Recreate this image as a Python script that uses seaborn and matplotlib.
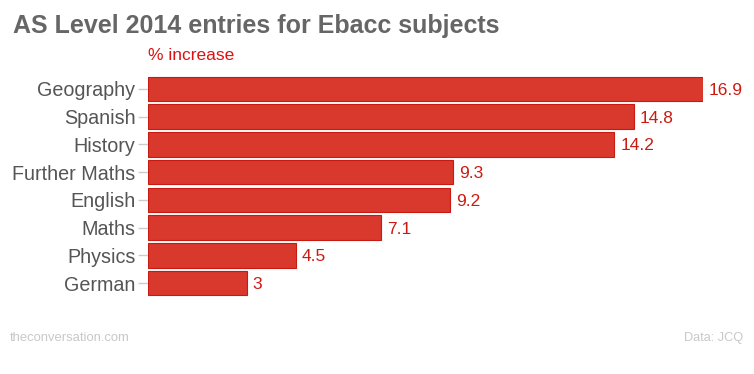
import matplotlib
matplotlib.use('Agg')
import matplotlib.pyplot as plt
import seaborn as sns
import pandas as pd

subjects = ['Geography', 'Spanish', 'History', 'Further Maths',
            'English', 'Maths', 'Physics', 'German']
increase = [16.9, 14.8, 14.2, 9.3, 9.2, 7.1, 4.5, 3]
value_labels = ['16.9', '14.8', '14.2', '9.3', '9.2', '7.1', '4.5', '3']

df = pd.DataFrame({'subject': subjects, 'increase': increase})

sns.set_style('white')
plt.rcParams['font.family'] = ['Liberation Sans', 'DejaVu Sans']

fig = plt.figure(figsize=(7.54, 3.74), dpi=100)
ax = fig.add_axes([148 / 754, 1 - 296.9 / 374, (703 - 148) / 754, (296.9 - 75.1) / 374])

sns.barplot(data=df, x='increase', y='subject', ax=ax, color='#d9382c',
            saturation=1, width=0.88, edgecolor='#c81a12', linewidth=0.8)

# value labels at the bar ends
for i, (v, lab) in enumerate(zip(increase, value_labels)):
    ax.text(v + 0.18, i, lab, ha='left', va='center_baseline',
            fontsize=12.5, color='#cc1a10')

ax.set_xlim(0, 16.9)
ax.set_ylim(7.5, -0.5)
ax.set_xlabel('')
ax.set_ylabel('')
ax.set_xticks([])
for s in ax.spines.values():
    s.set_visible(False)
ax.tick_params(axis='y', left=True, length=7, width=1, color='#cccccc',
               labelsize=14.2, labelcolor='#555555', pad=2)

fig.text(13 / 754, 1 - 26 / 374, 'AS Level 2014 entries for Ebacc subjects',
         ha='left', va='center', fontsize=18, fontweight='bold', color='#666666')
fig.text(148 / 754, 1 - 55 / 374, '% increase', ha='left', va='center',
         fontsize=12.5, color='#dd1111')
fig.text(10 / 754, 1 - 338 / 374, 'theconversation.com', ha='left', va='center',
         fontsize=9.4, color='#c8c8c8')
fig.text(743 / 754, 1 - 338 / 374, 'Data: JCQ', ha='right', va='center',
         fontsize=9.2, color='#c8c8c8')

fig.savefig('out.png', dpi=100)
